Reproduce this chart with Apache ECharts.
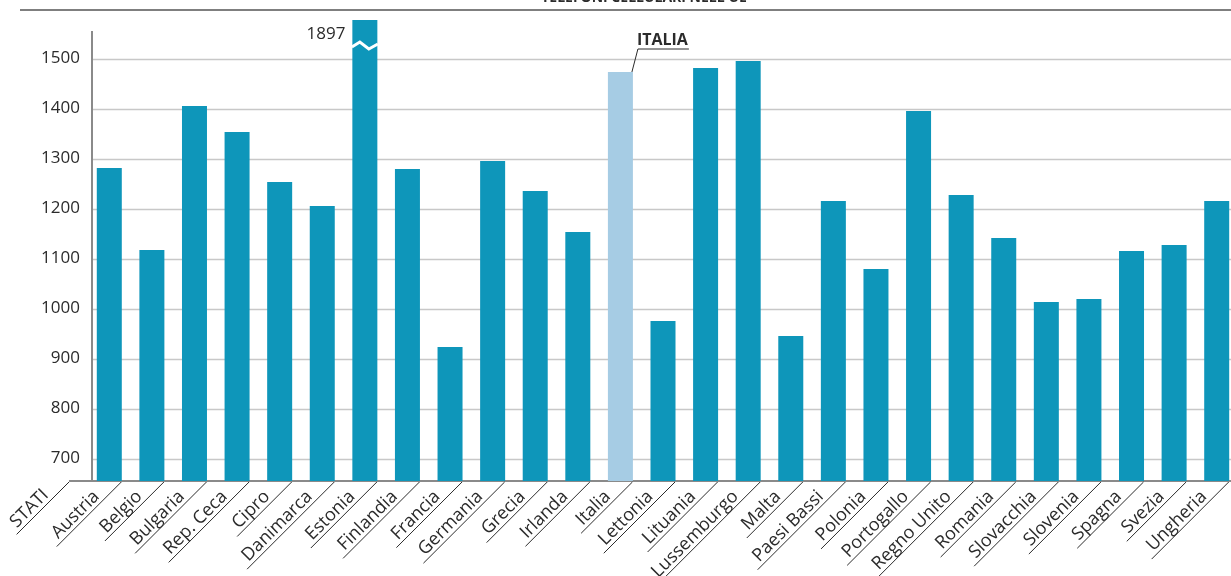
<!DOCTYPE html>
<html lang="it">
<head>
<meta charset="UTF-8">
<title>Telefoni cellulari nell'UE</title>
<script src="https://cdn.jsdelivr.net/npm/echarts@6/dist/echarts.min.js"></script>
<style>
  html, body { margin: 0; padding: 0; background: #fff; }
  #main { width: 1231px; height: 576px; }
</style>
</head>
<body>
<div id="main"></div>
<script>
// dati
var stati = ['Austria', 'Belgio', 'Bulgaria', 'Rep. Ceca', 'Cipro', 'Danimarca', 'Estonia',
  'Finlandia', 'Francia', 'Germania', 'Grecia', 'Irlanda', 'Italia', 'Lettonia', 'Lituania',
  'Lussemburgo', 'Malta', 'Paesi Bassi', 'Polonia', 'Portogallo', 'Regno Unito', 'Romania',
  'Slovacchia', 'Slovenia', 'Spagna', 'Svezia', 'Ungheria'];
var valori = [1281, 1117, 1405, 1353, 1253, 1205, 1897, 1279, 923, 1295, 1235, 1153, 1473, 975,
  1481, 1495, 945, 1215, 1079, 1395, 1227, 1141, 1013, 1019, 1115, 1127, 1215];
var tickValori = [700, 800, 900, 1000, 1100, 1200, 1300, 1400, 1500];
var evidenziato = 'Italia';
var fuoriScala = 'Estonia';
var titolo = "TELEFONI CELLULARI NELL'UE";
var etichettaAsse = 'STATI';

var FONT = '"Open Sans", "DejaVu Sans", sans-serif';
var BLU = '#0e96ba', CELESTE = '#a6cce4', GRIGIO = '#8a8a8a', TESTO = '#2b2b2b';
var AXIS_X = 92, BASE_Y = 481, FS = 18;

var chart = echarts.init(document.getElementById('main'));

chart.setOption({
  animation: false,
  grid: { left: 88, width: 1150, top: 20, bottom: 95, outerBoundsMode: 'none', containLabel: false },
  xAxis: {
    type: 'category',
    data: stati,
    axisLine: { lineStyle: { color: GRIGIO, width: 2 } },
    axisTick: { show: false },
    axisLabel: {
      interval: 0, rotate: 45, margin: 0,
      padding: [0, 18, 0, 0],
      fontSize: FS, color: TESTO, fontFamily: FONT
    }
  },
  yAxis: {
    type: 'value',
    min: 655, max: 1577,
    axisLine: { show: false },
    axisTick: { show: false, customValues: tickValori },
    splitLine: { show: false },
    axisLabel: {
      customValues: tickValori,
      formatter: function (v) { return String(v); },
      margin: 8, fontSize: 17, color: TESTO, fontFamily: FONT
    }
  },
  series: [{
    type: 'bar',
    barWidth: 25,
    clip: true,
    z: 2,
    data: valori.map(function (v, i) {
      return { value: v, itemStyle: { color: stati[i] === evidenziato ? CELESTE : BLU } };
    })
  }]
});

// misura testo per le sottolineature
var ctx = document.createElement('canvas').getContext('2d');
ctx.font = FS + 'px ' + FONT;
function larghezza(t) { return ctx.measureText(t).width; }

function px(i, v) { return chart.convertToPixel({ gridIndex: 0 }, [i, v]); }

var g = [];
var S = Math.SQRT1_2;

// titolo (tagliato in alto) e filetto
g.push({ type: 'text', z: 10, style: { x: 644, y: 5, text: titolo, align: 'center', verticalAlign: 'bottom',
  font: 'bold 14px ' + FONT, fill: TESTO } });
g.push({ type: 'line', z: 10, shape: { x1: 20, y1: 10, x2: 1231, y2: 10 }, style: { stroke: '#555', lineWidth: 1.5 } });

// griglia orizzontale
tickValori.forEach(function (v) {
  var y = Math.round(px(0, v)[1]) + 0.5;
  g.push({ type: 'line', z: 0, shape: { x1: AXIS_X, y1: y, x2: 1231, y2: y },
    style: { stroke: '#c8c8c8', lineWidth: 1.5 } });
});

// asse y
g.push({ type: 'line', z: 10, shape: { x1: AXIS_X, y1: px(0, 1555)[1], x2: AXIS_X, y2: BASE_Y },
  style: { stroke: GRIGIO, lineWidth: 2 } });
// prolungamento asse x a sinistra
g.push({ type: 'line', z: 10, shape: { x1: 69, y1: BASE_Y, x2: 89, y2: BASE_Y },
  style: { stroke: GRIGIO, lineWidth: 2 } });

// sottolineature etichette
stati.forEach(function (s, i) {
  var cx = px(i, 700)[0] + 12;
  var L = larghezza(s) + 32;
  g.push({ type: 'line', z: 10, shape: { x1: cx, y1: BASE_Y + 1, x2: cx - L * S, y2: BASE_Y + 1 + L * S },
    style: { stroke: TESTO, lineWidth: 1 } });
});

// etichetta STATI
var sx = 57;
g.push({ type: 'text', z: 10, x: sx - 16 * S, y: BASE_Y + 16 * S, rotation: Math.PI / 4,
  style: { x: 0, y: 0, text: etichettaAsse, align: 'right', verticalAlign: 'middle', font: FS + 'px ' + FONT, fill: TESTO } });
var Ls = larghezza(etichettaAsse) + 28;
g.push({ type: 'line', z: 10, shape: { x1: sx + 12, y1: BASE_Y + 1, x2: sx + 12 - Ls * S, y2: BASE_Y + 1 + Ls * S },
  style: { stroke: TESTO, lineWidth: 1 } });

// barra fuori scala: interruzione e valore
var ie = stati.indexOf(fuoriScala);
var pe = px(ie, 1525);
g.push({ type: 'polyline', z: 10, shape: { points: [[pe[0] - 13, pe[1] + 1], [pe[0] - 5, pe[1] - 4], [pe[0] + 4, pe[1] + 3], [pe[0] + 13, pe[1] - 2]] },
  style: { stroke: '#fff', lineWidth: 3, fill: null } });
var pl = px(ie, 1549);
g.push({ type: 'text', z: 10, style: { x: pl[0] - 19.5, y: pl[1], text: String(valori[ie]), align: 'right', verticalAlign: 'middle',
  font: '17px ' + FONT, fill: TESTO } });

// richiamo ITALIA
var ii = stati.indexOf(evidenziato);
var pi = px(ii, valori[ii]);
var cxr = pi[0] + 11.5, cy = pi[1];
var ly = 49;
g.push({ type: 'polyline', z: 10, shape: { points: [[cxr, cy], [cxr + 6, ly], [cxr + 57, ly]] },
  style: { stroke: TESTO, lineWidth: 1, fill: null } });
g.push({ type: 'text', z: 10, style: { x: cxr + 5, y: ly - 9, text: evidenziato.toUpperCase(), align: 'left', verticalAlign: 'middle',
  font: 'bold 16px ' + FONT, fill: TESTO } });

chart.setOption({ graphic: g });
</script>
</body>
</html>
